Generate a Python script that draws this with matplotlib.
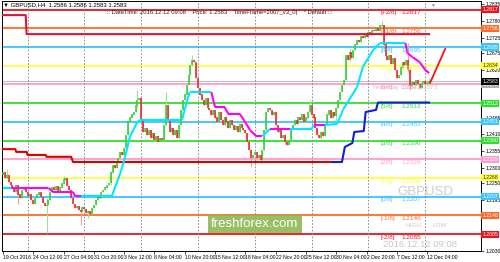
import numpy as np
import matplotlib.pyplot as plt
from matplotlib.transforms import blended_transform_factory

plt.rcParams['font.family'] = ['Liberation Sans', 'DejaVu Sans']

# GBPUSD H4 candles (open of each bar = previous close)
first_open = 1.2280
closes = [
    1.2287, 1.2268, 1.2278, 1.2255, 1.2245, 1.2236, 1.2222, 1.2245, 1.2213, 1.2203,
    1.2229, 1.2236, 1.2222, 1.2209, 1.2216, 1.2196, 1.2183, 1.2203, 1.2213, 1.2222,
    1.2206, 1.2186, 1.2177, 1.2180, 1.2196, 1.2222, 1.2236, 1.2229, 1.2242, 1.2226,
    1.2236, 1.2249, 1.2262, 1.2268, 1.2242, 1.2229, 1.2203, 1.2183, 1.2170, 1.2177,
    1.2164, 1.2157, 1.2173, 1.2167, 1.2154, 1.2160, 1.2151, 1.2170, 1.2180, 1.2196,
    1.2209, 1.2203, 1.2222, 1.2229, 1.2236, 1.2245, 1.2252, 1.2287, 1.2310, 1.2301,
    1.2320, 1.2333, 1.2353, 1.2343, 1.2366, 1.2408, 1.2451, 1.2464, 1.2474, 1.2483,
    1.2506, 1.2522, 1.2529, 1.2457, 1.2418, 1.2431, 1.2408, 1.2424, 1.2398, 1.2415,
    1.2392, 1.2405, 1.2385, 1.2398, 1.2392, 1.2441, 1.2506, 1.2457, 1.2418, 1.2431,
    1.2408, 1.2424, 1.2398, 1.2441, 1.2490, 1.2522, 1.2539, 1.2571, 1.2604, 1.2636,
    1.2653, 1.2646, 1.2594, 1.2561, 1.2539, 1.2522, 1.2506, 1.2529, 1.2496, 1.2490,
    1.2474, 1.2490, 1.2464, 1.2451, 1.2483, 1.2457, 1.2441, 1.2464, 1.2451, 1.2431,
    1.2457, 1.2441, 1.2424, 1.2437, 1.2418, 1.2444, 1.2431, 1.2424, 1.2415, 1.2385,
    1.2359, 1.2333, 1.2343, 1.2353, 1.2333, 1.2343, 1.2327, 1.2359, 1.2424, 1.2483,
    1.2496, 1.2490, 1.2474, 1.2483, 1.2441, 1.2418, 1.2431, 1.2398, 1.2408, 1.2385,
    1.2376, 1.2392, 1.2424, 1.2441, 1.2457, 1.2444, 1.2464, 1.2457, 1.2474, 1.2451,
    1.2464, 1.2483, 1.2506, 1.2474, 1.2464, 1.2431, 1.2408, 1.2398, 1.2418, 1.2405,
    1.2441, 1.2474, 1.2490, 1.2464, 1.2483, 1.2470, 1.2496, 1.2522, 1.2548, 1.2571,
    1.2587, 1.2669, 1.2653, 1.2679, 1.2659, 1.2685, 1.2702, 1.2718, 1.2711, 1.2731,
    1.2724, 1.2734, 1.2728, 1.2744, 1.2737, 1.2750, 1.2747, 1.2757, 1.2750, 1.2764,
    1.2767, 1.2702, 1.2666, 1.2653, 1.2669, 1.2640, 1.2659, 1.2620, 1.2594, 1.2604,
    1.2627, 1.2646, 1.2636, 1.2653, 1.2620, 1.2568, 1.2580, 1.2571, 1.2587, 1.2574,
    1.2561, 1.2578, 1.2584, 1.2574, 1.2580, 1.2583,
]

# bars with visible shadows
wick_bars = [2, 8, 23, 32, 41, 45, 57, 71, 86, 100, 131, 137, 149, 162, 176, 183, 200, 214, 215, 225]
wick_highs = [1.2297, 1.2246, 1.2203, 1.2275, 1.2166, 1.2162, 1.2290, 1.2555, 1.2548, 1.2669,
              1.2360, 1.2360, 1.2410, 1.2522, 1.2500, 1.2692, 1.2780, 1.2708, 1.2625, 1.2595]
wick_lows = [1.2265, 1.2183, 1.2089, 1.2249, 1.2115, 1.2138, 1.2245, 1.2500, 1.2436, 1.2634,
             1.2304, 1.2318, 1.2380, 1.2480, 1.2455, 1.2650, 1.2760, 1.2615, 1.2555, 1.2570]

# channel indicator lines
up_x = [0, 12, 12.5, 225]
up_y = [1.2799, 1.2799, 1.2737, 1.2737]
low_x = [0, 6.5, 7, 12.5, 13, 22.5, 23, 36, 37, 174]
low_y = [1.2362, 1.2362, 1.2353, 1.2353, 1.2343, 1.2343, 1.2337, 1.2337, 1.2320, 1.2320]
bull_x = [174, 179, 180.5, 184.5, 185.5, 190.5, 191.5, 197, 198, 225]
bull_y = [1.2320, 1.2320, 1.2369, 1.2382, 1.2418, 1.2421, 1.2483, 1.2490, 1.2514, 1.2514]

# middle trend line, direction per segment (1 up / -1 down)
mid_x = [0, 4, 24, 26.5, 37, 38, 41, 57.5, 62, 64.5, 67, 71, 72.5, 94.5, 98.5, 110, 112, 117,
         119, 125, 127.5, 130.5, 133.5, 137, 141, 151.5, 163, 164, 170, 176.5, 179.5, 187, 190,
         195.5, 199, 212.5, 213.5, 216, 220, 223, 225]
mid_y = [1.2236, 1.2236, 1.2236, 1.2222, 1.2222, 1.2209, 1.2209, 1.2209, 1.2284, 1.2336, 1.2402,
         1.2451, 1.2457, 1.2457, 1.2548, 1.2548, 1.2499, 1.2499, 1.2477, 1.2477, 1.2454, 1.2424,
         1.2405, 1.2405, 1.2428, 1.2428, 1.2428, 1.2441, 1.2441, 1.2444, 1.2490, 1.2565, 1.2630,
         1.2685, 1.2708, 1.2708, 1.2676, 1.2663, 1.2646, 1.2620, 1.2610]
mid_dir = [1, -1, -1, -1, -1, -1, 1, 1, 1, 1, 1, 1, 1, 1, 1, -1, -1, -1, -1, -1, -1, -1, -1,
           1, -1, 1, 1, -1, 1, 1, 1, 1, 1, 1, 1, -1, -1, -1, -1, -1]

arrow_x = [225.5, 233.5]
arrow_y = [1.2578, 1.2689]

# Murrey math levels
level_names = ['[+2/8]', '[+1/8]', '[8/8]', '[7/8]', '[6/8]', '[5/8]', '[4/8]',
               '[3/8]', '[2/8]', '[1/8]', '[0/8]', '[-1/8]', '[-2/8]']
level_values = [1.2817, 1.2756, 1.2695, 1.2634, 1.2573, 1.2512, 1.2451,
                1.2390, 1.2329, 1.2268, 1.2207, 1.2146, 1.2085]
level_colors = ['#e8141e', '#ff6a28', '#3cc4ff', '#ffff40', '#ff9ccc', '#2ee02e', '#3cc4ff',
                '#2ee02e', '#ff9ccc', '#ffff40', '#3cc4ff', '#ff6a28', '#e8141e']
bid = 1.2583

date_labels = ['19 Oct 2016', '24 Oct 12:00', '27 Oct 04:00', '31 Oct 20:00', '3 Nov 12:00',
               '8 Nov 04:00', '10 Nov 20:00', '15 Nov 12:00', '18 Nov 04:00', '22 Nov 20:00',
               '25 Nov 12:00', '30 Nov 04:00', '2 Dec 20:00', '7 Dec 12:00', '12 Dec 04:00']
week_starts = [13, 43, 73, 103, 133, 163, 193, 223]
# scale labels not hidden behind the level boxes
price_ticks = [1.2835, 1.2780, 1.2725, 1.2675, 1.2620, 1.2465, 1.2410,
               1.2355, 1.2300, 1.2250, 1.2195, 1.2030]

fig = plt.figure(figsize=(5, 2.62), dpi=100)
ax = fig.add_axes([2 / 500, 11 / 262, 479 / 500, 250 / 262])
ax.set_xlim(-0.5, 252.4)
ax.set_ylim(1.20299, 1.2845)

# levels
for v, c in zip(level_values, level_colors):
    ax.axhline(v, color=c, lw=1.3, zorder=1)
ax.axhline(bid, color='#c0c0c0', lw=0.8, zorder=1)

for w in week_starts:
    ax.axvline(w, color='#808080', lw=0.6, ls=(0, (2, 2)), zorder=1.5)

# candles
closes = np.array(closes)
opens = np.concatenate([[first_open], closes[:-1]])
highs = np.maximum(opens, closes)
lows = np.minimum(opens, closes)
for b, h, l in zip(wick_bars, wick_highs, wick_lows):
    highs[b] = max(highs[b], h)
    lows[b] = min(lows[b], l)
idx = np.arange(len(closes))
up = closes >= opens
ax.vlines(idx[up], lows[up], highs[up], color='#9fe09f', lw=0.8, zorder=2)
ax.vlines(idx[~up], lows[~up], highs[~up], color='#f4a0a0', lw=0.8, zorder=2)
bot = np.minimum(opens, closes) - 0.00012
top = np.maximum(opens, closes) + 0.00012
ax.vlines(idx[up], bot[up], top[up], color='#2ecc2e', lw=1.1, zorder=3)
ax.vlines(idx[~up], bot[~up], top[~up], color='#e82020', lw=1.1, zorder=3)

# indicators
ax.plot(up_x, up_y, color='#dc143c', lw=1.5, zorder=4)
ax.plot(low_x, low_y, color='#e00000', lw=1.5, zorder=4)
ax.plot(bull_x, bull_y, color='#1020d8', lw=1.5, zorder=4)
for i, d in enumerate(mid_dir):
    ax.plot(mid_x[i:i + 2], mid_y[i:i + 2], color='#00e8ff' if d > 0 else '#ff00ff',
            lw=1.5, zorder=4, solid_capstyle='butt')
ax.plot(arrow_x, arrow_y, color='#ff1010', lw=1.3, zorder=4)

# level captions
for n, v, c in zip(level_names, level_values, level_colors):
    ax.text(199.5, v - 0.0002, n, color=c, fontsize=4.6, va='top', ha='left', zorder=5)
    ax.text(210.5, v - 0.0002, f'{v:.4f}', color=c, fontsize=4.6, va='top', ha='left', zorder=5)
ax.text(195, 1.2573 - 0.0002, 'Yesterday Close 1.2573', color='#b8b8b8', fontsize=4.4,
        va='top', ha='left', zorder=5, alpha=0.8)

ax.text(208.5, 1.2222, 'GBPUSD', color='#cdcdcd', fontsize=9.5, va='center', ha='left', zorder=1.8)
ax.text(212.5, 1.2114, 'HIGH', color='#c8c8c8', fontsize=4.6, va='center', ha='left')
ax.text(227, 1.2114, 'LOW', color='#c8c8c8', fontsize=4.6, va='center', ha='left')
ax.text(200.5, 1.2052, '2016.12.12 09:08', color='#c8c8c8', fontsize=6.8, va='center', ha='left')
ax.text(110, 1.2118, 'freshforex.com', color='white', fontsize=9.5, va='center', ha='left',
        zorder=6, bbox=dict(boxstyle='square,pad=0.25', fc='#8db855', ec='none', alpha=0.9))
ax.text(227, 1.2840, '\u25bc', color='#909090', fontsize=3.5, va='top', ha='center')

# price axis on the right
ax.yaxis.tick_right()
ax.set_yticks(price_ticks)
ax.set_yticklabels([f'{p:.4f}' for p in price_ticks])
ax.tick_params(axis='y', labelsize=3.6, length=2, width=0.5, pad=1)
ax.set_xticks(np.arange(len(date_labels)) * 16)
ax.set_xticklabels(date_labels, ha='left')
ax.tick_params(axis='x', labelsize=3.7, length=2, width=0.5, pad=1)
for s in ax.spines.values():
    s.set_linewidth(0.7)

tr = blended_transform_factory(ax.transAxes, ax.transData)
box_vals = level_values + [1.2573, bid]
box_cols = level_colors + ['#b0b0b0', 'black']
for v, c in zip(box_vals, box_cols):
    tc = '#303030' if c == '#ffff40' else 'white'
    ax.text(1.003, v, f'{v:.4f}', transform=tr, fontsize=3.7, color=tc, va='center', ha='left',
            clip_on=False, zorder=7,
            bbox=dict(boxstyle='square,pad=0.2', fc=c, ec='none'))

fig.text(0.006, 0.981, '\u25bc GBPUSD,H4  1.2586 1.2586 1.2583 1.2583', fontsize=4.3, va='center')
fig.text(0.21, 0.951, '::: DateTime: 2016.12.12 09:08    Price: 1.2583    TimeFrame=2007_v3_0|    * Default :::',
         fontsize=4.2, va='center', color='#202020')

fig.savefig('out.png', dpi=100)
